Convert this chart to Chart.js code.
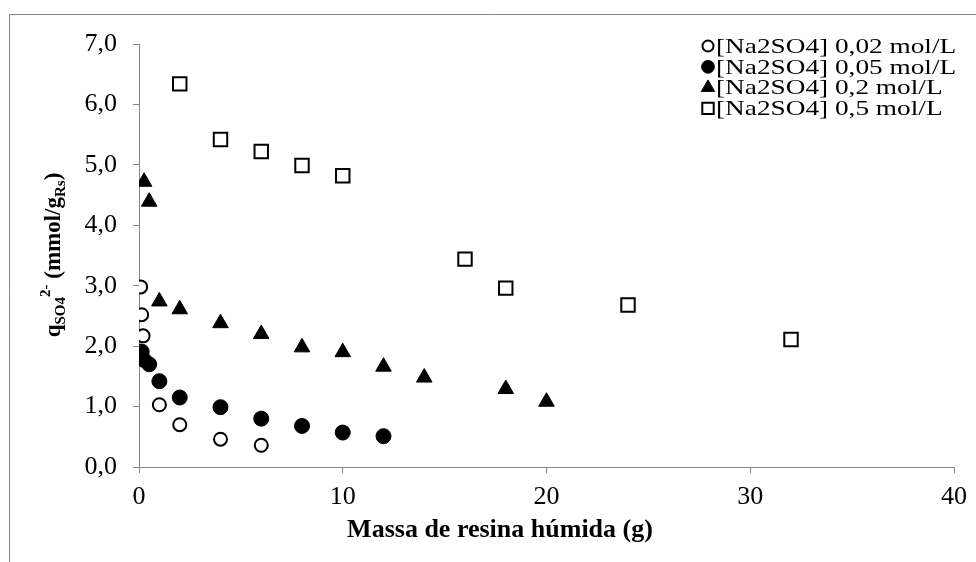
<!DOCTYPE html>
<html>
<head>
<meta charset="utf-8">
<script src="https://cdn.jsdelivr.net/npm/chart.js@4.4.0/dist/chart.umd.min.js"></script>
<style>
  html, body { margin: 0; padding: 0; background: #fff; }
  #caja { width: 976px; height: 562px; position: relative; }
</style>
</head>
<body>
<div id="caja"><canvas id="grafico"></canvas></div>
<script>
// ------------------ datos ------------------

// [Na2SO4] 0,02 mol/L
const masa002 = [0.08, 0.13, 0.2, 1, 2, 4, 6];
const q002 = [2.98, 2.52, 2.17, 1.03, 0.70, 0.46, 0.36];

// [Na2SO4] 0,05 mol/L
const masa005 = [0.13, 0.25, 0.5, 1, 2, 4, 6, 8, 10, 12];
const q005 = [1.91, 1.77, 1.70, 1.42, 1.15, 0.99, 0.80, 0.68, 0.57, 0.51];

// [Na2SO4] 0,2 mol/L
const masa02 = [0.25, 0.5, 1, 2, 4, 6, 8, 10, 12, 14, 18, 20];
const q02 = [4.72, 4.39, 2.74, 2.61, 2.38, 2.20, 1.98, 1.90, 1.66, 1.48, 1.29, 1.08];

// [Na2SO4] 0,5 mol/L
const masa05 = [2, 4, 6, 8, 10, 16, 18, 24, 32];
const q05 = [6.34, 5.42, 5.22, 4.99, 4.82, 3.44, 2.96, 2.68, 2.11];

const nombres = [
    "[Na2SO4] 0,02 mol/L",
    "[Na2SO4] 0,05 mol/L",
    "[Na2SO4] 0,2 mol/L",
    "[Na2SO4] 0,5 mol/L",
];

const ejeX = { min: 0, max: 40, paso: 10 };
const ejeY = { min: 0, max: 7, paso: 1 };

const gris = "#868686";
const fuente = "'Liberation Serif', 'Times New Roman', serif";

// ------------------ funciones ------------------
function puntos(xs, ys) {
    return xs.map((x, i) => ({ x: x, y: ys[i] }));
}

// texto algo ensanchado, como en el original
function textoAncho(ctx, txt, x, y, escala) {
    ctx.save();
    ctx.translate(x, y);
    ctx.scale(escala, 1);
    ctx.fillText(txt, 0, 0);
    ctx.restore();
}

// marco, leyenda y titulos de los ejes
const extras = {
    id: "extras",
    beforeDraw(chart) {
        const ctx = chart.ctx;
        ctx.save();
        ctx.strokeStyle = gris;
        ctx.lineWidth = 1;
        ctx.beginPath();
        ctx.moveTo(9.5, 562);
        ctx.lineTo(9.5, 14.5);
        ctx.lineTo(976, 14.5);
        ctx.stroke();
        ctx.restore();
    },
    afterDraw(chart) {
        const ctx = chart.ctx;
        ctx.save();

        // leyenda
        ctx.font = "22px " + fuente;
        ctx.textBaseline = "middle";
        ctx.textAlign = "left";
        chart.data.datasets.forEach((ds, i) => {
            const y = 46 + i * 20.8;
            ctx.fillStyle = ds.backgroundColor;
            ctx.strokeStyle = ds.borderColor;
            ctx.lineWidth = ds.borderWidth;
            Chart.helpers.drawPoint(ctx, {
                pointStyle: ds.pointStyle,
                radius: ds.pointRadius * 0.85,
                rotation: 0,
                borderWidth: ds.borderWidth,
            }, 708, y);
            ctx.fillStyle = "#000";
            textoAncho(ctx, ds.label, 716, y + 1, 1.24);
        });

        // titulo eje x
        ctx.font = "bold 25px " + fuente;
        ctx.textAlign = "center";
        ctx.textBaseline = "middle";
        textoAncho(ctx, "Massa de resina húmida (g)", 500, 531, 1.04);

        // titulo eje y con subindice y superindice
        ctx.translate(52, 255);
        ctx.rotate(-Math.PI / 2);
        const partes = [
            { t: "q", f: "bold 23px ", dy: 0 },
            { t: "SO4", f: "bold 15px ", dy: 5 },
            { t: "2-", f: "bold 15px ", dy: -10 },
            { t: " (mmol/g", f: "bold 23px ", dy: 0 },
            { t: "Rs", f: "bold 15px ", dy: 5 },
            { t: ")", f: "bold 23px ", dy: 0 },
        ];
        let total = 0;
        partes.forEach((p) => {
            ctx.font = p.f + fuente;
            p.w = ctx.measureText(p.t).width;
            total += p.w;
        });
        let x = -total / 2;
        ctx.textAlign = "left";
        ctx.textBaseline = "alphabetic";
        partes.forEach((p) => {
            ctx.font = p.f + fuente;
            ctx.fillText(p.t, x, 8 + p.dy);
            x += p.w;
        });
        ctx.restore();
    },
};

// ------------------ grafico ------------------
const lienzo = document.getElementById("grafico").getContext("2d");
const grafico = new Chart(lienzo, {
    type: "scatter",
    data: {
        datasets: [
            {
                label: nombres[0],
                data: puntos(masa002, q002),
                pointStyle: "circle",
                pointRadius: 6.5,
                backgroundColor: "#fff",
                borderColor: "#000",
                borderWidth: 2,
            },
            {
                label: nombres[1],
                data: puntos(masa005, q005),
                pointStyle: "circle",
                pointRadius: 7.5,
                backgroundColor: "#000",
                borderColor: "#000",
                borderWidth: 1,
            },
            {
                label: nombres[2],
                data: puntos(masa02, q02),
                pointStyle: "triangle",
                pointRadius: 9,
                backgroundColor: "#000",
                borderColor: "#000",
                borderWidth: 1,
            },
            {
                label: nombres[3],
                data: puntos(masa05, q05),
                pointStyle: "rect",
                pointRadius: 9.5,
                backgroundColor: "#fff",
                borderColor: "#000",
                borderWidth: 2,
            },
        ],
    },
    options: {
        responsive: true,
        maintainAspectRatio: false,
        animation: false,
        layout: { padding: { left: 0, top: 44, right: 19, bottom: 0 } },
        plugins: {
            legend: { display: false },
            tooltip: { enabled: false },
        },
        scales: {
            x: {
                type: "linear",
                min: ejeX.min,
                max: ejeX.max,
                afterFit: (s) => { s.height = 95; },
                grid: { drawOnChartArea: false, tickLength: 6, color: gris },
                border: { color: gris, width: 1 },
                ticks: {
                    stepSize: ejeX.paso,
                    padding: 9,
                    color: "#000",
                    font: { family: fuente, size: 26 },
                },
            },
            y: {
                type: "linear",
                min: ejeY.min,
                max: ejeY.max,
                afterFit: (s) => { s.width = 139; },
                grid: { drawOnChartArea: false, tickLength: 6, color: gris },
                border: { color: gris, width: 1 },
                ticks: {
                    stepSize: ejeY.paso,
                    padding: 16,
                    color: "#000",
                    font: { family: fuente, size: 26 },
                    callback: (v) => v.toFixed(1).replace(".", ","),
                },
            },
        },
    },
    plugins: [extras],
});
</script>
</body>
</html>
